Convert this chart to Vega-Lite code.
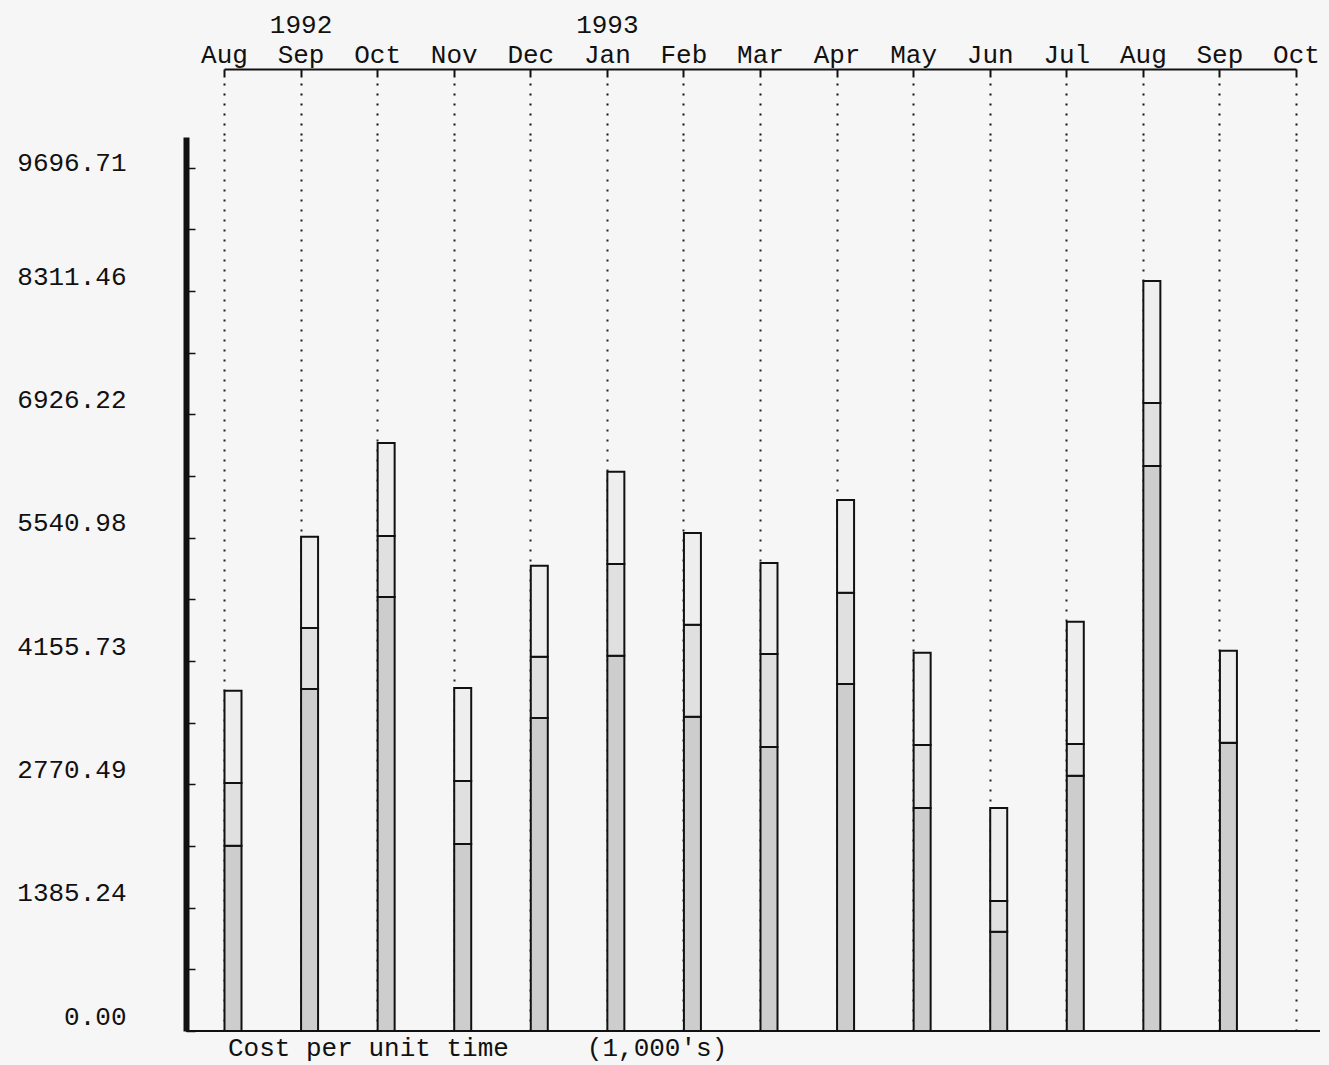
{
  "$schema": "https://vega.github.io/schema/vega-lite/v6.json",
  "width": 1134,
  "height": 894,
  "autosize": "none",
  "padding": {"left": 186, "top": 137, "right": 9, "bottom": 34},
  "background": "#f6f6f6",
  "title": {
    "text": "Cost per unit time\u00a0\u00a0\u00a0\u00a0\u00a0(1,000's)",
    "orient": "bottom",
    "anchor": "start",
    "frame": "group",
    "dx": 42,
    "offset": 3,
    "font": "Liberation Mono",
    "fontSize": 26,
    "fontWeight": "normal",
    "color": "#111"
  },
  "data": {
    "values": [
      {"month": "Aug 1992", "component": "A", "cost": 2082},
      {"month": "Aug 1992", "component": "B", "cost": 704},
      {"month": "Aug 1992", "component": "C", "cost": 1037},
      {"month": "Sep 1992", "component": "A", "cost": 3842},
      {"month": "Sep 1992", "component": "B", "cost": 685},
      {"month": "Sep 1992", "component": "C", "cost": 1026},
      {"month": "Oct 1992", "component": "A", "cost": 4876},
      {"month": "Oct 1992", "component": "B", "cost": 685},
      {"month": "Oct 1992", "component": "C", "cost": 1045},
      {"month": "Nov 1992", "component": "A", "cost": 2101},
      {"month": "Nov 1992", "component": "B", "cost": 708},
      {"month": "Nov 1992", "component": "C", "cost": 1045},
      {"month": "Dec 1992", "component": "A", "cost": 3516},
      {"month": "Dec 1992", "component": "B", "cost": 689},
      {"month": "Dec 1992", "component": "C", "cost": 1022},
      {"month": "Jan 1993", "component": "A", "cost": 4216},
      {"month": "Jan 1993", "component": "B", "cost": 1030},
      {"month": "Jan 1993", "component": "C", "cost": 1037},
      {"month": "Feb 1993", "component": "A", "cost": 3531},
      {"month": "Feb 1993", "component": "B", "cost": 1034},
      {"month": "Feb 1993", "component": "C", "cost": 1030},
      {"month": "Mar 1993", "component": "A", "cost": 3190},
      {"month": "Mar 1993", "component": "B", "cost": 1045},
      {"month": "Mar 1993", "component": "C", "cost": 1022},
      {"month": "Apr 1993", "component": "A", "cost": 3898},
      {"month": "Apr 1993", "component": "B", "cost": 1026},
      {"month": "Apr 1993", "component": "C", "cost": 1041},
      {"month": "May 1993", "component": "A", "cost": 2505},
      {"month": "May 1993", "component": "B", "cost": 708},
      {"month": "May 1993", "component": "C", "cost": 1037},
      {"month": "Jun 1993", "component": "A", "cost": 1116},
      {"month": "Jun 1993", "component": "B", "cost": 345},
      {"month": "Jun 1993", "component": "C", "cost": 1045},
      {"month": "Jul 1993", "component": "A", "cost": 2868},
      {"month": "Jul 1993", "component": "B", "cost": 356},
      {"month": "Jul 1993", "component": "C", "cost": 1374},
      {"month": "Aug 1993", "component": "A", "cost": 6347},
      {"month": "Aug 1993", "component": "B", "cost": 708},
      {"month": "Aug 1993", "component": "C", "cost": 1371},
      {"month": "Sep 1993", "component": "A", "cost": 3239},
      {"month": "Sep 1993", "component": "B", "cost": 0},
      {"month": "Sep 1993", "component": "C", "cost": 1034}
    ]
  },
  "layer": [
    {
      "mark": {"type": "bar", "width": 17, "xOffset": 9, "stroke": "#111", "strokeWidth": 2},
      "encoding": {
        "x": {
          "field": "month",
          "type": "ordinal",
          "scale": {
            "type": "point",
            "padding": 0,
            "range": [38, 1110],
            "domain": ["Aug 1992", "Sep 1992", "Oct 1992", "Nov 1992", "Dec 1992", "Jan 1993", "Feb 1993", "Mar 1993", "Apr 1993", "May 1993", "Jun 1993", "Jul 1993", "Aug 1993", "Sep 1993", "Oct 1993"]
          },
          "axis": {
            "orient": "top",
            "offset": 68,
            "title": null,
            "labelAngle": 0,
            "labelAlign": "center",
            "labelBaseline": "bottom",
            "labelExpr": "datum.value == 'Sep 1992' ? ['1992', 'Sep'] : datum.value == 'Jan 1993' ? ['1993', 'Jan'] : slice(datum.value, 0, 3)",
            "labelFont": "Liberation Mono",
            "labelFontSize": 26,
            "labelLineHeight": 30,
            "labelColor": "#111",
            "labelPadding": {"condition": {"test": "datum.value == 'Sep 1992' || datum.value == 'Jan 1993'", "value": 100}, "value": 70},
            "labelOverlap": false,
            "labelBound": false,
            "labelFlush": false,
            "domainColor": "#111",
            "domainWidth": 2,
            "tickColor": "#111",
            "tickWidth": 2,
            "tickSize": -68,
            "tickDash": [8, 6, 2, 8, 2, 8, 2, 8, 2, 8, 2, 8, 2, 8],
            "grid": true,
            "gridColor": "#222",
            "gridWidth": 2,
            "gridDash": [2, 8]
          }
        },
        "y": {
          "field": "cost",
          "type": "quantitative",
          "stack": "zero",
          "scale": {"domain": [0, 10043.019], "nice": false, "zero": true},
          "axis": {
            "title": null,
            "grid": false,
            "values": [0, 346.311, 692.622, 1038.933, 1385.244, 1731.555, 2077.866, 2424.177, 2770.488, 3116.799, 3463.11, 3809.421, 4155.732, 4502.043, 4848.354, 5194.665, 5540.976, 5887.287, 6233.598, 6579.909, 6926.22, 7272.531, 7618.842, 7965.153, 8311.464, 8657.775, 9004.086, 9350.397, 9696.708],
            "labelExpr": "abs(datum.value / 1385.244 - round(datum.value / 1385.244)) < 0.01 ? format(datum.value, '.2f') : ''",
            "labelFont": "Liberation Mono",
            "labelFontSize": 26,
            "labelColor": "#111",
            "labelAlign": "right",
            "labelBaseline": "middle",
            "labelPadding": 69,
            "labelOffset": {"condition": {"test": "datum.value > 9000", "value": -5}, "value": -15},
            "labelOverlap": false,
            "labelBound": false,
            "labelFlush": false,
            "domainColor": "#111",
            "domainWidth": 6,
            "tickColor": "#111",
            "tickWidth": 1.5,
            "tickSize": -9
          }
        },
        "color": {
          "field": "component",
          "type": "nominal",
          "scale": {"domain": ["A", "B", "C"], "range": ["#cdcdcd", "#e0e0e0", "#eeeeee"]},
          "legend": null
        },
        "order": {"field": "component", "sort": "ascending"}
      }
    },
    {
      "mark": {"type": "rule", "stroke": "#111", "strokeWidth": 2},
      "encoding": {"y": {"datum": 0, "type": "quantitative"}}
    }
  ],
  "config": {"view": {"stroke": null}}
}
